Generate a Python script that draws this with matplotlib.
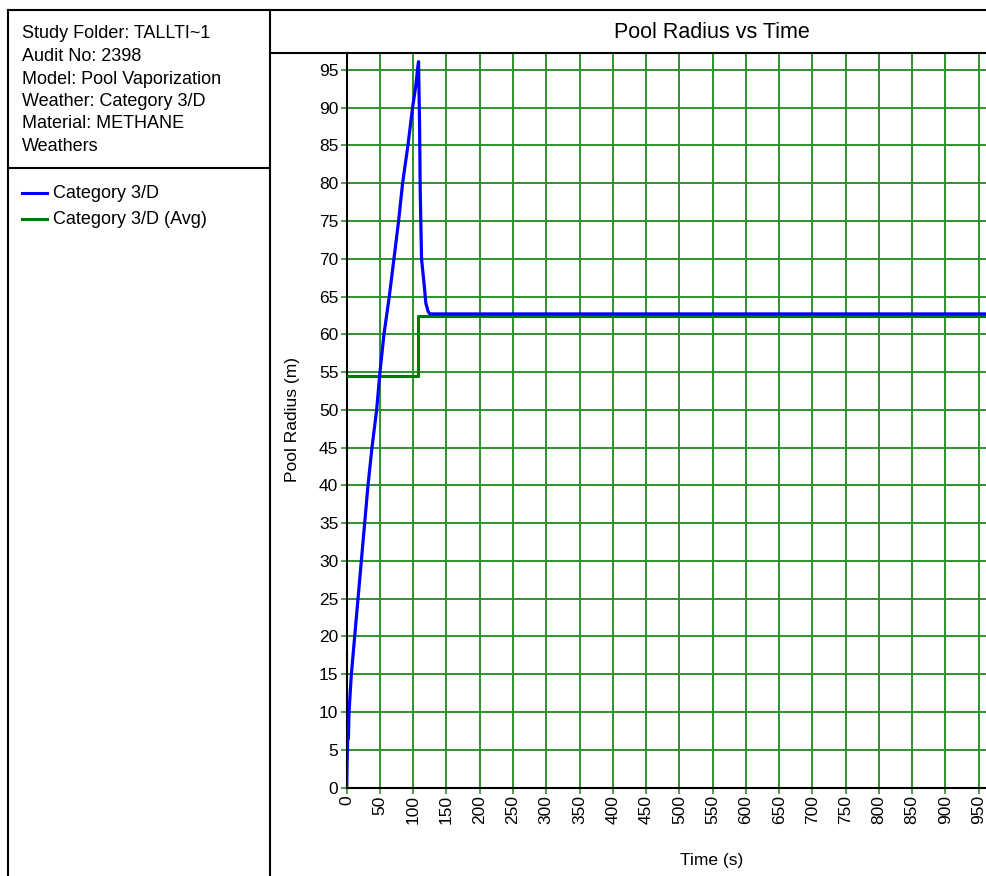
import matplotlib.pyplot as plt
from matplotlib.lines import Line2D

plt.rcParams['font.family'] = ['Liberation Sans', 'DejaVu Sans']

W, H = 987, 876

# info panel text
info_lines = ['Study Folder: TALLTI~1', 'Audit No: 2398', 'Model: Pool Vaporization',
              'Weather: Category 3/D', 'Material: METHANE', 'Weathers']
series_names = ['Category 3/D', 'Category 3/D (Avg)']

# Category 3/D pool radius (m) vs time (s)
t_pool = [0, 0.5, 1.5, 2.5, 3.5, 7, 12, 17, 22, 27, 32, 38, 45, 50, 56, 64, 71,
          78, 84, 92, 99, 104, 107, 108, 109.5, 110.5, 112.5, 116.5, 119, 122.5,
          125, 1000]
r_pool = [0, 2.8, 6.5, 6.5, 10, 15, 20, 25, 30, 35, 40, 45, 50, 55, 60, 65, 70,
          75, 80, 85, 90, 93, 95.5, 96.1, 88, 79, 70, 66.5, 64.1, 63.0,
          62.7, 62.7]

# averaged radius (step)
t_avg = [0, 107.5, 1000]
r_avg = [54.5, 62.4, 62.4]

x_ticks = list(range(0, 951, 50))
y_ticks = list(range(0, 96, 5))


def fx(px):
    return px / W


def fy(py):
    return 1 - py / H


fig = plt.figure(figsize=(W / 100, H / 100), dpi=100)
fig.patch.set_facecolor('white')

# frame lines (pixel coords)
frame = [
    ((8, 8), (10, H)),        # left panel left edge
    ((8, 987), (10, 10)),     # top
    ((270, 270), (10, H)),    # divider
    ((8, 270), (168, 168)),   # info / legend separator
    ((270, 987), (53, 53)),   # title box bottom
]
for xs, ys in frame:
    fig.add_artist(Line2D([fx(x) for x in xs], [fy(y) for y in ys],
                          color='black', lw=1.5, transform=fig.transFigure))

for i, line in enumerate(info_lines):
    fig.text(fx(22), fy(34 + i * 22.5), line, fontsize=13, va='center', ha='left')

leg_colors = ['#0000ff', '#007a00']
for i, (name, c) in enumerate(zip(series_names, leg_colors)):
    y = fy(193 + i * 26)
    fig.add_artist(Line2D([fx(22), fx(47)], [y, y], color=c, lw=2.2,
                          transform=fig.transFigure))
    fig.text(fx(53), y, name, fontsize=13, va='center', ha='left')

fig.text(fx(712), fy(33), 'Pool Radius vs Time', fontsize=15.5, ha='center', va='center')

ax = fig.add_axes([fx(346.7), fy(787.5), 1 - fx(346.7), fy(53) - fy(787.5)])

ax.plot(t_avg, r_avg, color='#007a00', lw=2.2, drawstyle='steps-post', zorder=3)
ax.plot(t_pool, r_pool, color='#0000ff', lw=2.3, zorder=4)

ax.set_xticks(x_ticks)
ax.set_yticks(y_ticks)
ax.set_xlim(0, (W - 346.7) / 0.6653)
ax.set_ylim(0, (787.5 - 53) / 7.553)
ax.tick_params(axis='x', labelrotation=90, pad=1.5)
ax.tick_params(axis='y', pad=2)
ax.tick_params(length=4, width=1.2, color='#2e922e', labelsize=12.5)
ax.grid(True, color='#2e922e', lw=1.4)
ax.set_axisbelow(True)

ax.spines['right'].set_visible(False)
ax.spines['top'].set_visible(False)
for s in ['left', 'bottom']:
    ax.spines[s].set_linewidth(1.5)

fig.text(fx(292), fy(419), 'Pool Radius (m)', rotation=90, fontsize=12.5, ha='center', va='center')
fig.text(fx(712), fy(860), 'Time (s)', fontsize=12.5, ha='center', va='center')

fig.savefig('out.png', dpi=100)
